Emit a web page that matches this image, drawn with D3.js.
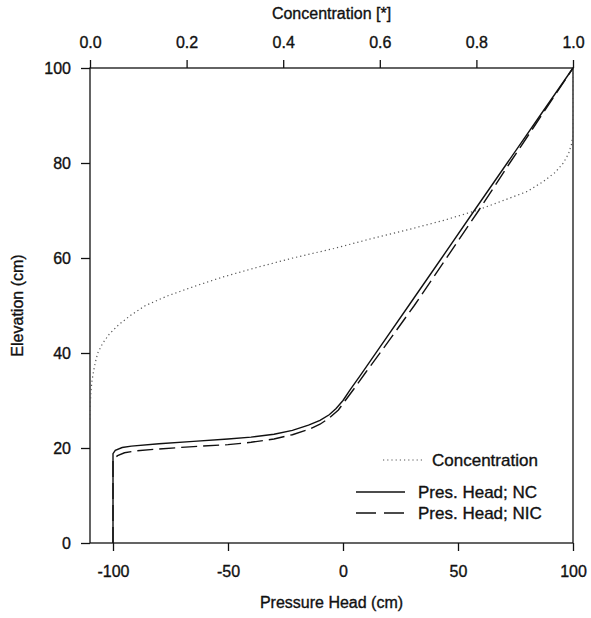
<!DOCTYPE html>
<html>
<head>
<meta charset="utf-8">
<script src="https://cdn.jsdelivr.net/npm/d3@7"></script>
<style>
  html, body { margin: 0; padding: 0; background: #fff; }
  svg { display: block; }
  text { font-family: "Liberation Sans", Arial, Helvetica, sans-serif; fill: #111; stroke: #111; stroke-width: 0.35px; }
</style>
</head>
<body>
<svg id="chart" width="591" height="618"></svg>
<script>
// ---------- data ----------
// Concentration profile: [concentration, elevation]
const concentration = [
  [0.000, 26], [0.001, 30], [0.002, 32], [0.004, 34], [0.007, 36], [0.011, 38],
  [0.016, 40], [0.026, 42], [0.040, 44], [0.060, 46], [0.085, 48], [0.115, 50],
  [0.160, 52], [0.215, 54], [0.275, 56], [0.345, 58], [0.420, 60], [0.505, 62],
  [0.580, 64], [0.660, 66], [0.735, 68], [0.800, 70], [0.853, 72], [0.905, 74],
  [0.937, 76], [0.963, 78], [0.980, 80], [0.991, 82], [0.997, 84], [1.000, 86],
  [1.000, 100]
];
// Pressure head, NC: [pressure head (cm), elevation (cm)]
const presNC = [
  [-100, 0], [-100, 18.8], [-99, 19.5], [-96, 20.1], [-92, 20.4], [-80, 20.9],
  [-65, 21.4], [-50, 21.9], [-40, 22.3], [-30, 22.9], [-22, 23.7], [-15, 24.8],
  [-10, 25.8], [-6, 27.0], [-3, 28.3], [0, 30.0], [3, 32.2], [8, 35.6],
  [15, 40.5], [28.6, 50], [42.9, 60], [57.1, 70], [71.4, 80], [85.7, 90], [100, 100]
];
// Pressure head, NIC
const presNIC = [
  [-100, 0], [-100, 17.6], [-98, 18.4], [-95, 19.0], [-90, 19.4], [-80, 19.8],
  [-65, 20.3], [-50, 20.7], [-40, 21.2], [-30, 21.9], [-22, 22.8], [-15, 23.9],
  [-10, 25.0], [-6, 26.3], [-2, 28.0], [1, 30.0], [5, 32.6], [10, 36.0],
  [17, 40.6], [31, 50], [45, 60], [59, 70], [72.5, 80], [86.3, 90], [100, 100]
];
const pressureTicks = [-100, -50, 0, 50, 100];
const concTicks = [0, 0.2, 0.4, 0.6, 0.8, 1.0];
const elevTicks = [0, 20, 40, 60, 80, 100];
const legendLabels = ["Concentration", "Pres. Head; NC", "Pres. Head; NIC"];

// ---------- layout ----------
const svg = d3.select("#chart");
const L = 90, R = 573, T = 68, B = 543;

const x = d3.scaleLinear().domain([-110, 100]).range([L, R]);
const xc = d3.scaleLinear().domain([0, 1]).range([L, R]);
const y = d3.scaleLinear().domain([0, 100]).range([B, T]);

const fontSize = 16;
const intFmt = d => String(d);          // hyphen-minus like the original
const decFmt = d => d.toFixed(1);

// axes
const gBottom = svg.append("g").attr("transform", `translate(0,${B})`)
  .call(d3.axisBottom(x).tickValues(pressureTicks).tickFormat(intFmt)
    .tickSize(8).tickPadding(15).tickSizeOuter(0));
const gTop = svg.append("g").attr("transform", `translate(0,${T})`)
  .call(d3.axisTop(xc).tickValues(concTicks).tickFormat(decFmt)
    .tickSize(8).tickPadding(12).tickSizeOuter(0));
const gLeft = svg.append("g").attr("transform", `translate(${L},0)`)
  .call(d3.axisLeft(y).tickValues(elevTicks).tickFormat(intFmt)
    .tickSize(9).tickPadding(10).tickSizeOuter(0));

[gBottom, gTop, gLeft].forEach(g => {
  g.select(".domain").remove();
  g.selectAll(".tick line").attr("stroke", "#111").attr("stroke-width", 1.3);
  g.selectAll(".tick text").attr("font-size", fontSize)
    .attr("font-family", '"Liberation Sans", Arial, sans-serif').attr("fill", "#111");
});

// frame
svg.append("rect").attr("x", L).attr("y", T).attr("width", R - L).attr("height", B - T)
  .attr("fill", "none").attr("stroke", "#111").attr("stroke-width", 1.3);

// titles
svg.append("text").attr("x", (L + R) / 2).attr("y", 19).attr("text-anchor", "middle")
  .attr("font-size", fontSize).text("Concentration [*]");
svg.append("text").attr("x", (L + R) / 2).attr("y", 608).attr("text-anchor", "middle")
  .attr("font-size", fontSize).text("Pressure Head (cm)");
svg.append("text").attr("transform", `translate(23,${(T + B) / 2}) rotate(-90)`)
  .attr("text-anchor", "middle").attr("font-size", fontSize).text("Elevation (cm)");

// lines
const lineP = d3.line().x(d => x(d[0])).y(d => y(d[1]));
const lineC = d3.line().x(d => xc(d[0])).y(d => y(d[1]));

svg.append("path").datum(concentration).attr("d", lineC)
  .attr("fill", "none").attr("stroke", "#555").attr("stroke-width", 1.2)
  .attr("stroke-dasharray", "1.2,3");
svg.append("path").datum(presNC).attr("d", lineP)
  .attr("fill", "none").attr("stroke", "#111").attr("stroke-width", 1.4);
svg.append("path").datum(presNIC).attr("d", lineP)
  .attr("fill", "none").attr("stroke", "#111").attr("stroke-width", 1.4)
  .attr("stroke-dasharray", "16,6");

// legend
const legendRows = [
  { label: legendLabels[0], x1: 383, x2: 424, tx: 432, y: 460, dash: "1.2,3", color: "#555", w: 1.2 },
  { label: legendLabels[1], x1: 356, x2: 405, tx: 418, y: 492, dash: null, color: "#111", w: 1.4 },
  { label: legendLabels[2], x1: 356, x2: 405, tx: 418, y: 513, dash: "20,8", color: "#111", w: 1.4 }
];
const lg = svg.append("g");
legendRows.forEach(r => {
  const ln = lg.append("line").attr("x1", r.x1).attr("x2", r.x2).attr("y1", r.y).attr("y2", r.y)
    .attr("stroke", r.color).attr("stroke-width", r.w);
  if (r.dash) ln.attr("stroke-dasharray", r.dash);
  lg.append("text").attr("x", r.tx).attr("y", r.y).attr("dy", "0.35em")
    .attr("font-size", 17).text(r.label);
});
</script>
</body>
</html>
